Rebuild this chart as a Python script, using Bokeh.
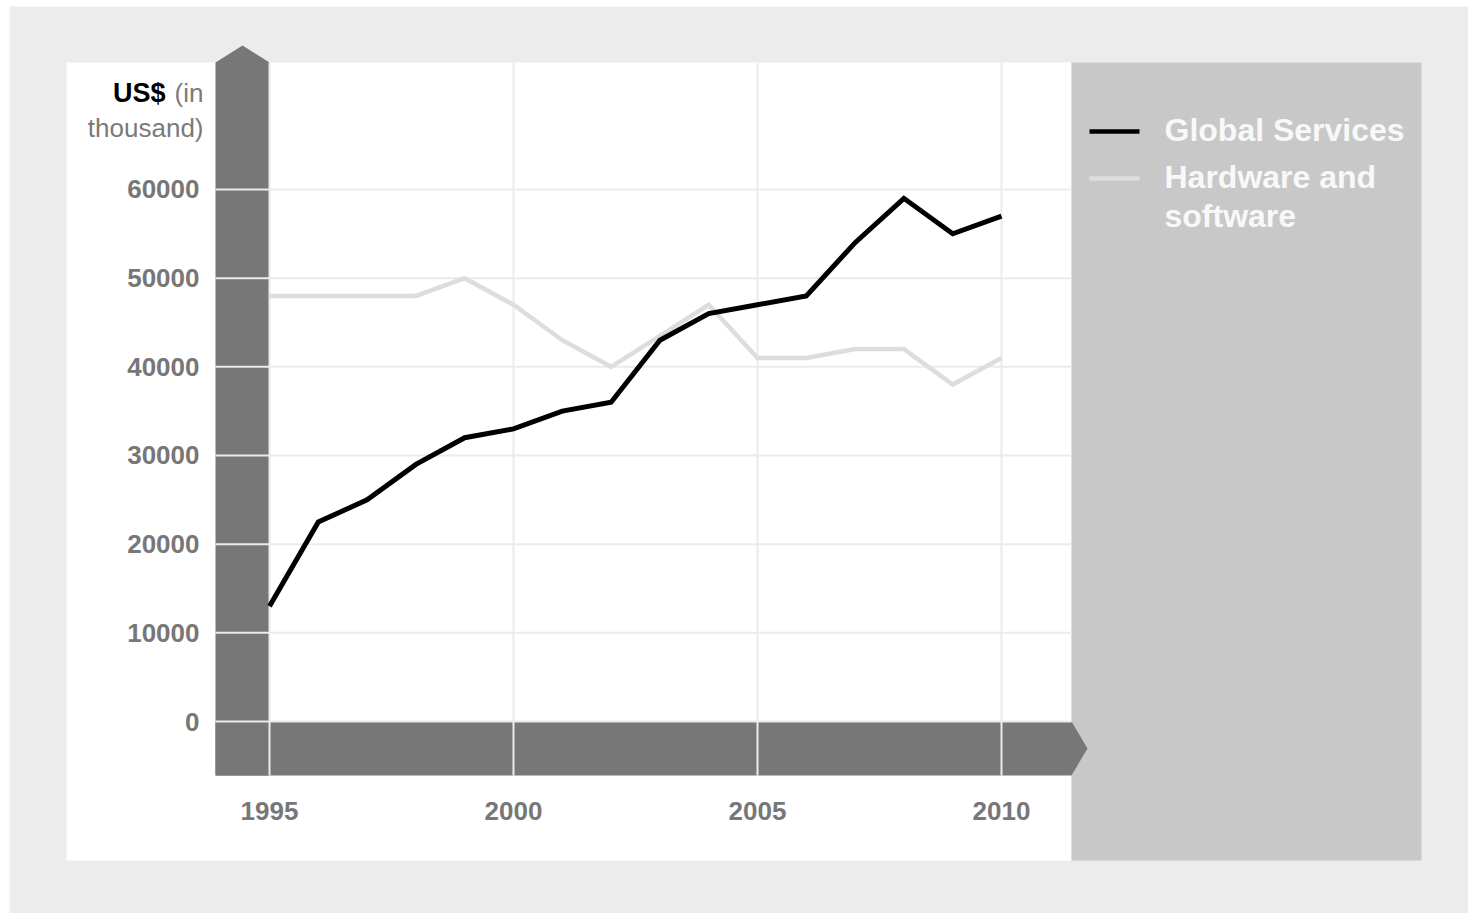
from bokeh.plotting import figure
from bokeh.models import Range1d
from bokeh.core.properties import value
from bokeh.embed import file_html
from bokeh.resources import INLINE

# ---- data ----
years = list(range(1995, 2011))
global_services = [13000, 22500, 25000, 29000, 32000, 33000, 35000, 36000,
                   43000, 46000, 47000, 48000, 54000, 59000, 55000, 57000]
hardware_software = [48000, 48000, 48000, 48000, 50000, 47000, 43000, 40000,
                     43500, 47000, 41000, 41000, 42000, 42000, 38000, 41000]
x_ticks = [1995, 2000, 2005, 2010]
x_tick_labels = ["1995", "2000", "2005", "2010"]
y_ticks = [0, 10000, 20000, 30000, 40000, 50000, 60000]
y_tick_labels = ["0", "10000", "20000", "30000", "40000", "50000", "60000"]
series_names = ["Global Services", "Hardware and", "software"]

W, H = 1468, 913
# pixel layout of the plotting area
PX_X0, PX_PER_YEAR = 269.0, 48.8
PX_Y0, PX_PER_UNIT = 721.0, 88.67 / 10000.0

def X(px):
    return 1995 + (px - PX_X0) / PX_PER_YEAR

def Y(py):
    return (PX_Y0 - py) / PX_PER_UNIT

p = figure(width=W, height=H, output_backend="svg", toolbar_location=None,
           x_range=Range1d(X(0), X(W)), y_range=Range1d(Y(H), Y(0)),
           x_axis_location=None, y_axis_location=None,
           min_border=0, min_border_left=0, min_border_right=0,
           min_border_top=0, min_border_bottom=0)
p.outline_line_color = None
p.background_fill_color = "white"
p.border_fill_color = "white"
p.xgrid.visible = False
p.ygrid.visible = False

FONT = value("Liberation Sans")
GRID = "#ebebeb"
DARK = "#777777"

# outer grey canvas, white panel, grey legend panel
p.quad(left=X(9), right=X(W + 5), top=Y(6), bottom=Y(H + 5), fill_color="#ececec", line_color=None)
p.quad(left=X(66), right=X(1071), top=Y(62), bottom=Y(860), fill_color="white", line_color=None)
p.quad(left=X(1071), right=X(1421), top=Y(62), bottom=Y(860), fill_color="#c8c8c8", line_color=None)

# dark axis bars with arrow heads
p.patch(x=[X(215), X(215), X(242), X(269), X(269)],
        y=[Y(775), Y(62), Y(45), Y(62), Y(775)], fill_color=DARK, line_color=None)
p.patch(x=[X(215), X(1071), X(1087), X(1071), X(215)],
        y=[Y(721), Y(721), Y(748), Y(775), Y(775)], fill_color=DARK, line_color=None)

# grid lines
p.segment(x0=[X(215)] * len(y_ticks), x1=[X(1071)] * len(y_ticks), y0=y_ticks, y1=y_ticks,
          line_color=GRID, line_width=2)
p.segment(x0=x_ticks, x1=x_ticks, y0=[Y(62)] * len(x_ticks), y1=[Y(775)] * len(x_ticks),
          line_color=GRID, line_width=2)

# series
p.line(years, hardware_software, line_color="#dddddd", line_width=4.5, line_join="miter")
p.line(years, global_services, line_color="black", line_width=5, line_join="miter")

# tick labels
p.text(x=[X(199)] * len(y_ticks), y=y_ticks, text=y_tick_labels, y_offset=0,
       text_align="right", text_baseline="alphabetic", text_font=FONT,
       text_font_style="bold", text_font_size="26px", text_color=DARK)
p.text(x=x_ticks, y=[Y(810)] * len(x_ticks), text=x_tick_labels,
       text_align="center", text_baseline="alphabetic", text_font=FONT,
       text_font_style="bold", text_font_size="26px", text_color=DARK)

# axis title
p.text(x=[X(165)], y=[Y(92)], text=["US$"], text_align="right", text_baseline="alphabetic",
       text_font=FONT, text_font_style="bold", text_font_size="27px", text_color="black")
p.text(x=[X(203)], y=[Y(92)], text=["(in"], text_align="right", text_baseline="alphabetic",
       text_font=FONT, text_font_size="26px", text_color="#7a7a7a")
p.text(x=[X(203)], y=[Y(127)], text=["thousand)"], text_align="right", text_baseline="alphabetic",
       text_font=FONT, text_font_size="26px", text_color="#7a7a7a")

# legend
p.segment(x0=[X(1089), X(1089)], x1=[X(1139), X(1139)], y0=[Y(131), Y(178)], y1=[Y(131), Y(178)],
          line_color=["black", "#dddddd"], line_width=4.5)
p.text(x=[X(1164)] * 3, y=[Y(129), Y(176), Y(215)], text=series_names,
       text_align="left", text_baseline="alphabetic", text_font=FONT,
       text_font_style="bold", text_font_size="32px", text_color="#f8f8f8")

open("out.html", "w").write(file_html(p, INLINE))
